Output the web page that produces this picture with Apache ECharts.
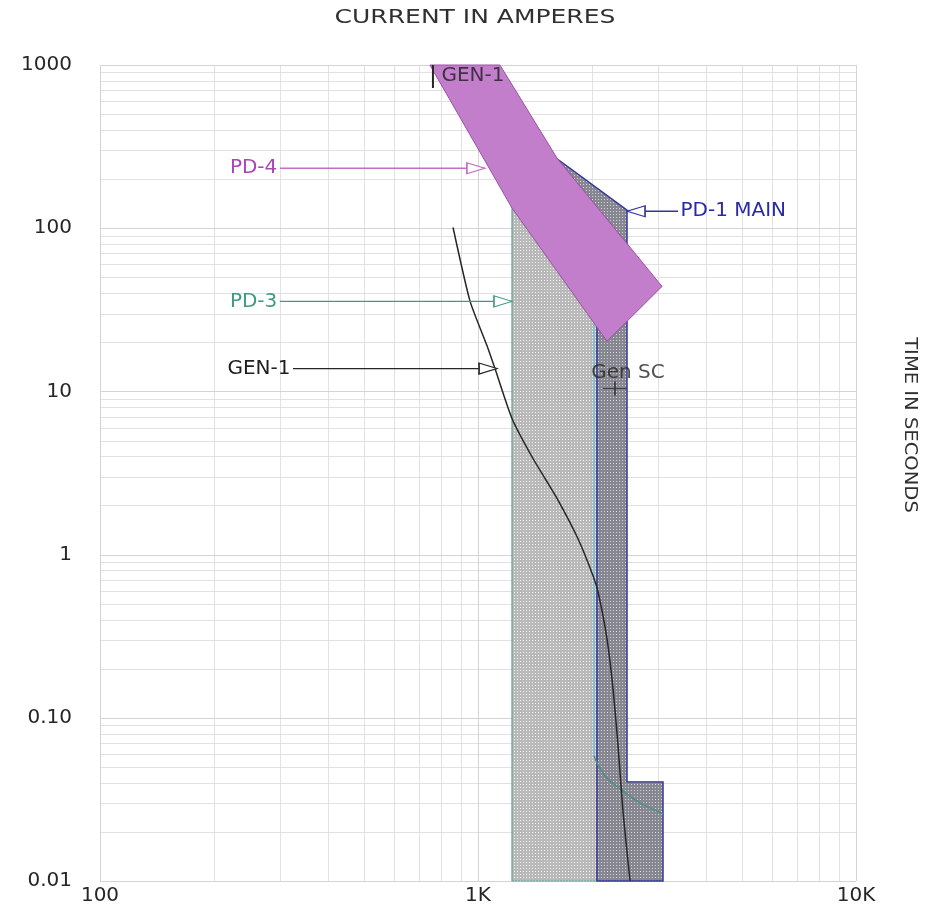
<!DOCTYPE html>
<html>
<head>
<meta charset="utf-8">
<script src="https://cdn.jsdelivr.net/npm/echarts@6/dist/echarts.min.js"></script>
<style>
  html, body { margin: 0; padding: 0; background: #fff; }
  #chart { width: 927px; height: 911px; }
</style>
</head>
<body>
<div id="chart"></div>
<script>
// Time-current coordination curves on log-log paper (amperes vs seconds)

// Axis graduation
const xTickValues = [100, 1000, 10000];
const xTickLabels = ['100', '1K', '10K'];
const yTickValues = [0.01, 0.1, 1, 10, 100, 1000];
const yTickLabels = ['0.01', '0.10', '1', '10', '100', '1000'];

// PD-4 trip band outline (amperes, seconds)
const pd4Amps = [746, 1143, 1618, 3068, 2194, 1230, 1063];
const pd4Secs = [1000, 1000, 269, 44, 20.3, 133, 240];

// PD-1 MAIN trip band outline
const pd1Amps = [1459, 2479, 2479, 3087, 3087, 2064, 2064];
const pd1Secs = [318, 129, 0.0405, 0.0405, 0.01, 0.01, 26.1];

// PD-3 trip band outline
const pd3Amps = [1230, 1230, 2064, 2064];
const pd3Secs = [0.01, 133, 34.7, 0.01];

// PD-3 maximum clearing edge: vertical part, then the instantaneous knee
const pd3EdgeAmps = [2027, 2027];
const pd3EdgeSecs = [37.2, 0.0585];
const pd3KneeAmps = [2027, 2077, 2181, 2376, 2683, 3087];
const pd3KneeSecs = [0.0585, 0.0515, 0.0434, 0.0367, 0.0301, 0.0258];

// GEN-1 decrement curve
const gen1Amps = [859, 953, 1056, 1109, 1230, 1398, 1618, 1839, 2015, 2077, 2194, 2276, 2347, 2419, 2525];
const gen1Secs = [101, 35.6, 19.1, 13.8, 6.83, 3.88, 2.21, 1.25, 0.743, 0.593, 0.305, 0.151, 0.0673, 0.0265, 0.01];

// GEN-1 marker at the top of the sheet
const gen1TickAmps = [760, 760];
const gen1TickSecs = [1000, 723];
const gen1TopLabelAt = [760, 856];

// Generator short-circuit point
const genScAmps = 2303;
const genScSecs = 10.4;

// Callout arrows: label, tail current, head current, time
const calloutNames = ['PD-4', 'PD-3', 'GEN-1', 'PD-1 MAIN'];
const calloutFromAmps = [299, 299, 324, 3381];
const calloutToAmps = [1043, 1230, 1123, 2479];
const calloutSecs = [233, 35.6, 13.8, 127];

const X_MIN = 100, X_MAX = 10000, Y_MIN = 0.01, Y_MAX = 1000;

const COLORS = {
  pd4Fill: '#c27ecb', pd4Edge: '#9a52a2', pd4Text: '#a945b4', pd4Line: '#c36cc9',
  pd3Text: '#3f9a82', pd3Line: '#3f9a82', pd3Edge: '#5da597', pd3Clear: '#7cc0d8', pd3Knee: '#4c8f84',
  pd1Text: '#2a2aa8', pd1Edge: '#34349e',
  gen: '#262626'
};
const calloutColors = [COLORS.pd4Line, COLORS.pd3Line, '#262626', COLORS.pd1Edge];
const calloutTextColors = [COLORS.pd4Text, COLORS.pd3Text, '#1e1e1e', COLORS.pd1Text];

const FONT = '"DejaVu Sans", "Liberation Sans", Arial, sans-serif';

function dotPattern(base, dot, step) {
  const c = document.createElement('canvas');
  c.width = step; c.height = step;
  const g = c.getContext('2d');
  g.fillStyle = base; g.fillRect(0, 0, step, step);
  g.fillStyle = dot; g.fillRect(1, 1, 1, 1);
  return { image: c, repeat: 'repeat' };
}

function gridValues(lo, hi) {
  const out = [];
  for (let d = lo; d < hi * 0.999; d *= 10) {
    for (let k = 1; k <= 9; k++) out.push(d * k);
  }
  out.push(hi);
  return out;
}

function gridSeries(values, vertical, color) {
  return {
    type: 'custom', silent: true, z: 0,
    data: values.map(v => vertical ? [v, Y_MIN] : [X_MIN, v]),
    renderItem(params, api) {
      const v = api.value(vertical ? 0 : 1);
      const a = vertical ? api.coord([v, Y_MIN]) : api.coord([X_MIN, v]);
      const b = vertical ? api.coord([v, Y_MAX]) : api.coord([X_MAX, v]);
      const r = n => Math.round(n) + 0.5;
      return {
        type: 'line',
        shape: vertical ? { x1: r(a[0]), y1: a[1], x2: r(b[0]), y2: b[1] }
                        : { x1: a[0], y1: r(a[1]), x2: b[0], y2: r(b[1]) },
        style: { stroke: color, lineWidth: 1 }
      };
    }
  };
}

function bandSeries(amps, secs, fill, edge, edgeWidth, z) {
  return {
    type: 'custom', silent: true, z: z,
    data: amps.map((a, i) => [a, secs[i]]),
    renderItem(params, api) {
      if (params.dataIndex !== 0) return null;
      const pts = amps.map((a, i) => api.coord([a, secs[i]]));
      return {
        type: 'polygon',
        shape: { points: pts },
        style: { fill: fill, stroke: edge, lineWidth: edgeWidth, lineJoin: 'miter' }
      };
    }
  };
}

function curveSeries(amps, secs, color, width, z, smooth) {
  return {
    type: 'line', silent: true, z: z, showSymbol: false,
    smooth: smooth || false,
    data: amps.map((a, i) => [a, secs[i]]),
    lineStyle: { color: color, width: width },
    animation: false
  };
}

function calloutSeries(i) {
  const pointsLeft = calloutToAmps[i] < calloutFromAmps[i];
  return {
    type: 'line', silent: true, z: 8, animation: false,
    lineStyle: { color: calloutColors[i], width: 1.3 },
    data: [
      {
        value: [calloutFromAmps[i], calloutSecs[i]],
        symbol: 'circle', symbolSize: 1,
        itemStyle: { color: 'rgba(0,0,0,0)' },
        label: {
          show: true, formatter: calloutNames[i],
          position: pointsLeft ? 'right' : 'left', distance: 2,
          color: calloutTextColors[i], fontSize: 20, fontFamily: FONT
        }
      },
      {
        value: [calloutToAmps[i], calloutSecs[i]],
        symbol: 'triangle', symbolSize: [11, 18],
        symbolRotate: pointsLeft ? 90 : -90,
        symbolOffset: [pointsLeft ? 9 : -9, 0],
        itemStyle: { color: '#ffffff', borderColor: calloutColors[i], borderWidth: 1.3 }
      }
    ]
  };
}

function labelIndex(values, v) {
  for (let i = 0; i < values.length; i++) {
    if (Math.abs(Math.log10(v) - Math.log10(values[i])) < 1e-6) return i;
  }
  return -1;
}

const pd3Pattern = dotPattern('#b9b9b9', '#f4f4f4', 3);
const pd1Pattern = dotPattern('#878791', '#d2d2d8', 3);

const option = {
  animation: false,
  backgroundColor: '#ffffff',
  grid: { left: 100, right: 71, top: 65, bottom: 30, containLabel: false },
  xAxis: {
    type: 'log', logBase: 10, min: X_MIN, max: X_MAX,
    axisLine: { show: false }, axisTick: { show: false }, splitLine: { show: false },
    axisLabel: {
      show: true, margin: 5, color: '#262626', fontSize: 20, fontFamily: FONT,
      showMinLabel: true, showMaxLabel: true, hideOverlap: false,
      formatter: v => { const k = labelIndex(xTickValues, v); return k < 0 ? '' : xTickLabels[k]; }
    }
  },
  yAxis: {
    type: 'log', logBase: 10, min: Y_MIN, max: Y_MAX,
    axisLine: { show: false }, axisTick: { show: false }, splitLine: { show: false },
    axisLabel: {
      show: true, margin: 28, color: '#262626', fontSize: 20, fontFamily: FONT,
      showMinLabel: true, showMaxLabel: true, hideOverlap: false,
      formatter: v => { const k = labelIndex(yTickValues, v); return k < 0 ? '' : yTickLabels[k]; }
    }
  },
  graphic: [
    {
      type: 'text', x: 475, y: 18, scaleX: 1.25,
      style: { text: 'CURRENT IN AMPERES', fontSize: 20, fontFamily: FONT, fill: '#303030',
               textAlign: 'center', textVerticalAlign: 'middle' }
    },
    {
      type: 'text', x: 909, y: 425, rotation: -Math.PI / 2, scaleX: 1.15,
      style: { text: 'TIME IN SECONDS', fontSize: 17, fontFamily: FONT, fill: '#303030',
               textAlign: 'center', textVerticalAlign: 'middle' }
    }
  ],
  series: [
    gridSeries(gridValues(X_MIN, X_MAX), true, '#e1e1e1'),
    gridSeries(gridValues(Y_MIN, Y_MAX), false, '#e1e1e1'),
    gridSeries(xTickValues, true, '#d4d4d4'),
    gridSeries(yTickValues, false, '#d4d4d4'),

    bandSeries(pd3Amps, pd3Secs, pd3Pattern, COLORS.pd3Edge, 1.2, 2),
    bandSeries(pd1Amps, pd1Secs, pd1Pattern, COLORS.pd1Edge, 1.4, 3),
    curveSeries(pd3EdgeAmps, pd3EdgeSecs, COLORS.pd3Clear, 1.6, 4),
    curveSeries(pd3KneeAmps, pd3KneeSecs, COLORS.pd3Knee, 1.4, 4, 0.3),
    curveSeries(gen1Amps, gen1Secs, COLORS.gen, 1.5, 5, 0.2),
    bandSeries(pd4Amps, pd4Secs, COLORS.pd4Fill, COLORS.pd4Edge, 1, 6),

    // GEN-1 marker and its label near the top edge
    curveSeries(gen1TickAmps, gen1TickSecs, COLORS.gen, 2, 7),
    {
      type: 'scatter', silent: true, z: 9, animation: false,
      symbol: 'circle', symbolSize: 1, itemStyle: { color: 'rgba(0,0,0,0)' },
      data: [gen1TopLabelAt],
      label: { show: true, formatter: 'GEN-1', position: 'right', distance: 8,
               color: '#1e1e1e', fontSize: 20, fontFamily: FONT }
    },

    // Generator short-circuit point
    {
      type: 'scatter', silent: true, z: 9, animation: false,
      symbol: 'path://M0,7L24,7M12,0L12,14', symbolSize: [24, 14], symbolKeepAspect: false,
      itemStyle: { color: 'none', borderColor: '#262626', borderWidth: 1.3 },
      data: [[genScAmps, genScSecs]],
      label: { show: true, formatter: 'Gen SC', position: 'top', distance: 0, offset: [13, 3],
               color: '#262626', fontSize: 20, fontFamily: FONT }
    },

    calloutSeries(0), calloutSeries(1), calloutSeries(2), calloutSeries(3)
  ]
};

const chart = echarts.init(document.getElementById('chart'), null, { renderer: 'canvas' });
chart.setOption(option);
</script>
</body>
</html>
